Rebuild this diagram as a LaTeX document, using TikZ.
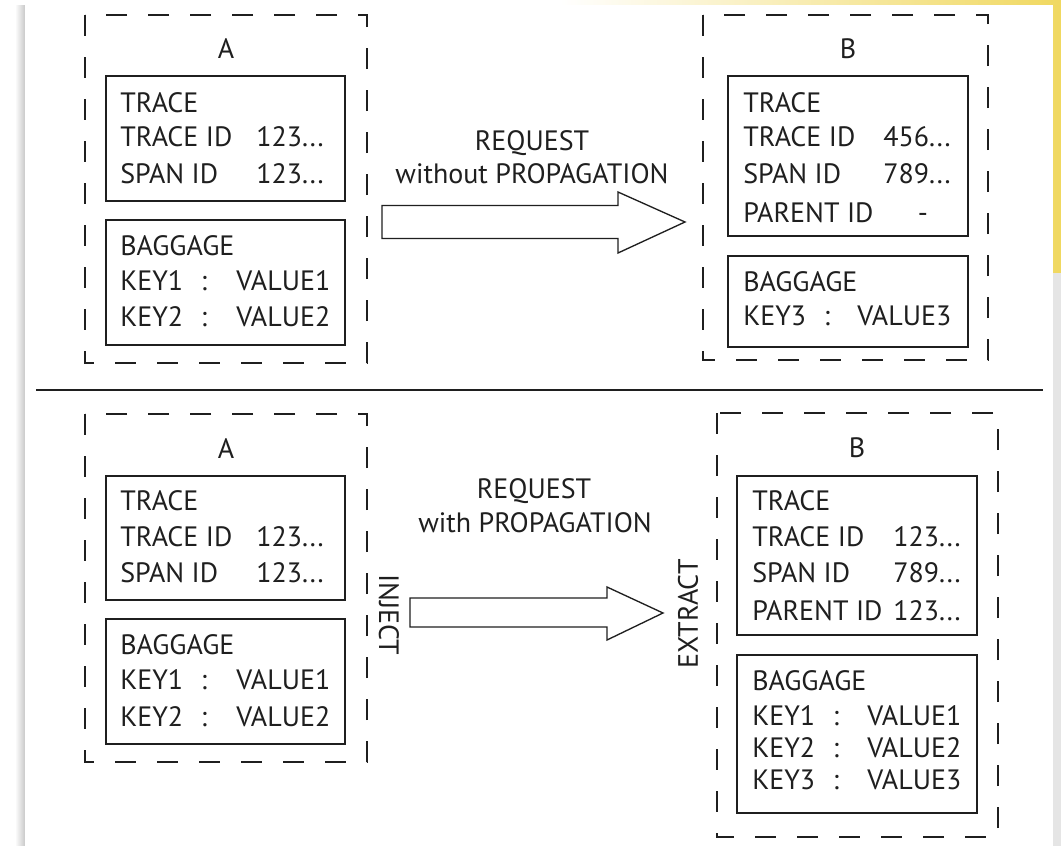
\documentclass[tikz,border=0pt]{standalone}
\usepackage{fontspec}
\setmainfont{PT Sans}
\usetikzlibrary{positioning, calc}
\definecolor{pageEdge}{RGB}{200,200,200}
\definecolor{deskYellow}{RGB}{240,216,96}
\colorlet{ink}{black!88}

\begin{document}
\begin{tikzpicture}[
  x=0.75pt, y=-0.75pt,
  zone/.style={draw=ink, line width=1pt, dash pattern=on 16pt off 15.5pt},
  panel/.style={draw=ink, line width=1.1pt},
  entry/.style={font=\fontsize{21}{25}\selectfont, text=ink, anchor=base west, inner sep=0pt},
  title/.style={entry, anchor=base},
  turned/.style={entry, anchor=center},
  fatarrow/.style={draw=ink, line width=1pt, fill=white, line join=miter},
]
  \useasboundingbox (0,0) rectangle (1061,846);

  % desk and page
  \shade[left color=white, right color=deskYellow] (560,0) rectangle (1061,273);
  \fill[black!10] (1053,273) rectangle (1061,846);
  \shade[left color=white, right color=pageEdge] (15,5) rectangle (25,846);
  \fill[white] (25,5) rectangle (1053,846);

  % --- without propagation ---
  \draw[zone] (85,15) rectangle (367,363);
  \draw[panel] (106,76) rectangle (345,201);
  \draw[panel] (106,220) rectangle (345,345);
  \node[title] (topA) at (226,58) {A};
  \node[entry] (topA-trace) at (120,112) {TRACE};
  \node[entry] (topA-tid) at (120,146) {TRACE ID};
  \node[entry] (topA-tidv) at (256,146) {123...};
  \node[entry] (topA-sid) at (120,183) {SPAN ID};
  \node[entry] (topA-sidv) at (256,183) {123...};
  \node[entry] (topA-bag) at (120,255) {BAGGAGE};
  \node[entry] (topA-k1) at (120,290) {KEY1};
  \node[title] (topA-c1) at (204,290) {:};
  \node[entry] (topA-v1) at (236,290) {VALUE1};
  \node[entry] (topA-k2) at (120,326) {KEY2};
  \node[title] (topA-c2) at (204,326) {:};
  \node[entry] (topA-v2) at (236,326) {VALUE2};

  \draw[zone] (703,15) rectangle (988,360);
  \draw[panel] (728,76) rectangle (968,236);
  \draw[panel] (728,256) rectangle (968,347);
  \node[title] (topB) at (848,58) {B};
  \node[entry] (topB-trace) at (743,112) {TRACE};
  \node[entry] (topB-tid) at (743,146) {TRACE ID};
  \node[entry] (topB-tidv) at (883,146) {456...};
  \node[entry] (topB-sid) at (743,183) {SPAN ID};
  \node[entry] (topB-sidv) at (883,183) {789...};
  \node[entry] (topB-pid) at (743,222) {PARENT ID};
  \node[title] (topB-pidv) at (923,222) {-};
  \node[entry] (topB-bag) at (743,291) {BAGGAGE};
  \node[entry] (topB-k3) at (743,325) {KEY3};
  \node[title] (topB-c3) at (827,325) {:};
  \node[entry] (topB-v3) at (857,325) {VALUE3};

  \node[title] (req1) at (532,150) {REQUEST};
  \node[title] (req1-how) at (532,183) {without PROPAGATION};
  \coordinate (req1-tail) at (382,222);
  \coordinate (req1-tip) at (685,222);
  \draw[fatarrow] (req1-tail) ++(0,-16.5) -- ++(236,0) -- ++(0,-13.5) -- (req1-tip)
    -- ++(-67,31) -- ++(0,-14.5) -- ++(-236,0) -- cycle;

  \draw[ink, line width=1.1pt] (36,390) -- (1043,390);

  % --- with propagation ---
  \draw[zone] (85,414) rectangle (367,762);
  \draw[panel] (106,476) rectangle (345,600);
  \draw[panel] (106,619) rectangle (345,744);
  \node[title] (botA) at (226,458) {A};
  \node[entry] (botA-trace) at (120,510) {TRACE};
  \node[entry] (botA-tid) at (120,546) {TRACE ID};
  \node[entry] (botA-tidv) at (256,546) {123...};
  \node[entry] (botA-sid) at (120,582) {SPAN ID};
  \node[entry] (botA-sidv) at (256,582) {123...};
  \node[entry] (botA-bag) at (120,654) {BAGGAGE};
  \node[entry] (botA-k1) at (120,689) {KEY1};
  \node[title] (botA-c1) at (204,689) {:};
  \node[entry] (botA-v1) at (236,689) {VALUE1};
  \node[entry] (botA-k2) at (120,726) {KEY2};
  \node[title] (botA-c2) at (204,726) {:};
  \node[entry] (botA-v2) at (236,726) {VALUE2};

  \draw[zone] (717,413) rectangle (998,837);
  \draw[panel] (737,476) rectangle (977,635);
  \draw[panel] (737,655) rectangle (977,813);
  \node[title] (botB) at (857,457) {B};
  \node[entry] (botB-trace) at (752,510) {TRACE};
  \node[entry] (botB-tid) at (752,546) {TRACE ID};
  \node[entry] (botB-tidv) at (893,546) {123...};
  \node[entry] (botB-sid) at (752,582) {SPAN ID};
  \node[entry] (botB-sidv) at (893,582) {789...};
  \node[entry] (botB-pid) at (752,620) {PARENT ID};
  \node[entry] (botB-pidv) at (893,620) {123...};
  \node[entry] (botB-bag) at (752,690) {BAGGAGE};
  \node[entry] (botB-k1) at (752,725) {KEY1};
  \node[title] (botB-c1) at (836,725) {:};
  \node[entry] (botB-v1) at (867,725) {VALUE1};
  \node[entry] (botB-k2) at (752,757) {KEY2};
  \node[title] (botB-c2) at (836,757) {:};
  \node[entry] (botB-v2) at (867,757) {VALUE2};
  \node[entry] (botB-k3) at (752,789) {KEY3};
  \node[title] (botB-c3) at (836,789) {:};
  \node[entry] (botB-v3) at (867,789) {VALUE3};

  \node[title] (req2) at (534,498) {REQUEST};
  \node[title] (req2-how) at (535,532) {with PROPAGATION};
  \node[turned, rotate=-90] (inject) at (389,615) {INJECT};
  \node[turned, rotate=90] (extract) at (688,614) {EXTRACT};
  \coordinate (req2-tail) at (410,612.5);
  \coordinate (req2-tip) at (663,613);
  \draw[fatarrow] (req2-tail) ++(0,-14.5) -- ++(197,0) -- ++(0,-11) -- (req2-tip)
    -- ++(-56,27) -- ++(0,-13) -- ++(-197,0) -- cycle;
\end{tikzpicture}
\end{document}
